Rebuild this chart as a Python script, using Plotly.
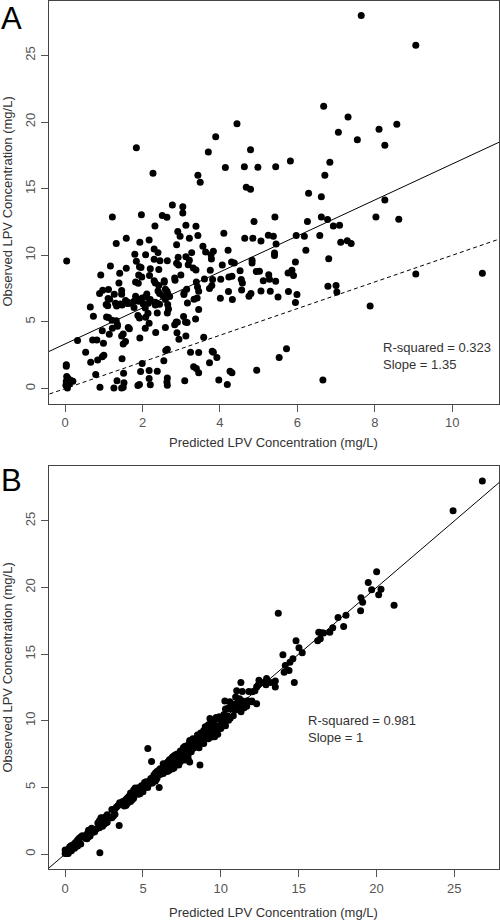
import plotly.graph_objects as go

# ---------------- Panel A data (predicted, observed) ----------------
pred_A = [1.84, 2.27, 1.22, 1.97, 2.51, 2.63, 2.77, 3.04, 3.04, 2.32, 3.12, 3.38, 3.43, 3.49, 3.70, 3.89, 4.44, 4.14, 4.63, 4.68,
          4.79, 4.79, 7.65, 9.06, 6.68, 7.31, 7.06, 8.11, 8.57, 7.55, 8.26, 4.98, 5.44, 5.82, 6.84, 6.71, 6.29, 6.62, 8.26, 4.88,
          5.42, 6.26, 6.62, 6.78, 6.93, 7.09, 8.03, 8.62, 4.85, 5.06, 5.25, 5.38, 5.97, 6.18, 6.58, 6.22, 7.12, 7.29, 7.39, 5.41,
          5.41, 4.83, 4.83, 6.81, 5.95, 4.94, 5.26, 5.76, 5.86, 5.90, 5.12, 5.44, 4.80, 5.06, 5.50, 5.77, 5.99, 5.95, 6.79, 7.00,
          7.02, 9.06, 10.78, 7.88, 5.72, 5.53, 4.95, 6.66, 2.91, 2.97, 3.21, 3.43, 4.10, 1.93, 2.17, 2.88, 3.56, 4.64, 1.80, 2.30,
          2.40, 3.27, 3.77, 3.83, 4.21, 3.12, 1.32, 1.58, 0.04, 1.17, 1.41, 1.58, 1.84, 1.92, 1.96, 2.08, 2.30, 2.45, 2.20, 2.42,
          2.64, 2.92, 2.88, 2.93, 3.21, 3.18, 3.31, 3.38, 3.63, 3.78, 4.06, 3.75, 4.30, 4.37, 4.52, 4.23, 4.31, 4.55, 4.58, 5.02,
          4.75, 5.30, 0.92, 0.89, 0.97, 1.12, 1.11, 1.15, 1.39, 1.46, 1.27, 1.46, 1.06, 1.10, 1.30, 1.33, 1.56, 1.62, 1.43, 1.47,
          1.61, 1.68, 1.78, 1.78, 1.90, 1.82, 1.99, 2.07, 2.11, 2.02, 2.15, 2.07, 2.20, 2.33, 2.33, 2.14, 1.92, 1.88, 1.82, 1.89,
          1.90, 1.98, 2.18, 2.30, 2.33, 2.42, 2.40, 2.56, 2.56, 2.59, 2.63, 2.65, 2.70, 2.53, 2.44, 2.59, 2.44, 2.65, 2.67, 2.64,
          2.38, 2.08, 2.17, 2.84, 2.83, 2.99, 3.07, 3.07, 3.14, 3.42, 3.45, 3.39, 3.60, 3.33, 3.41, 3.16, 3.45, 3.06, 2.87, 2.90,
          3.37, 3.11, 3.15, 2.83, 2.89, 2.59, 2.34, 2.07, 3.12, 2.94, 3.58, 2.64, 2.60, 3.73, 3.79, 3.81, 4.02, 4.01, 4.22, 4.32,
          4.56, 5.28, 5.45, 4.26, 4.31, 4.19, 3.97, 3.92, 3.80, 3.83, 3.73, 3.45, 3.24, 3.45, 3.32, 3.39, 3.09, 2.63, 2.64, 2.64,
          2.55, 2.38, 2.17, 2.17, 2.20, 1.95, 1.99, 1.88, 1.92, 1.51, 1.52, 1.34, 1.26, 1.46, 1.50, 0.90, 0.79, 1.47, 1.00, 0.96,
          0.84, 0.66, 0.53, 0.71, 0.82, 0.99, 0.32, 0.96, 1.14, 1.22, 1.35, 1.35, 1.46, 1.50, 1.50, 1.56, 1.32, 1.21, 1.12, 1.07,
          1.63, 1.66, 0.65, 0.73, 1.93, 0.03, 0.03, 0.04, 0.08, 0.03, 0.15, 0.20, 0.02, 0.06, 0.11]

obs = [18.08, 16.15, 12.88, 13.05, 12.98, 12.85, 13.78, 13.65, 13.18, 12.20, 12.25, 12.18, 16.00, 15.48, 17.75, 18.90, 19.88, 16.58, 16.65, 15.10,
       14.96, 17.93, 28.00, 25.76, 21.18, 20.38, 19.23, 19.45, 19.83, 18.68, 18.25, 16.60, 16.65, 17.08, 16.98, 16.00, 14.65, 14.40, 14.15, 12.53,
       12.88, 12.53, 12.88, 12.68, 12.20, 12.25, 12.88, 12.70, 11.28, 11.08, 11.50, 11.43, 11.48, 11.43, 11.48, 10.38, 10.98, 11.10, 10.88, 10.18,
       9.98, 9.63, 9.43, 9.75, 9.50, 8.78, 8.55, 8.68, 8.88, 8.48, 8.10, 8.05, 7.13, 7.33, 6.88, 7.28, 7.05, 6.45, 7.68, 7.73,
       7.25, 8.60, 8.65, 6.20, 2.98, 2.33, 1.37, 0.65, 11.78, 11.43, 11.28, 11.48, 11.65, 10.98, 11.15, 10.80, 10.68, 11.28, 10.08, 10.48,
       10.20, 10.20, 10.05, 10.30, 10.38, 9.90, 10.88, 11.28, 9.58, 9.20, 8.65, 9.03, 9.55, 9.15, 9.08, 10.05, 9.70, 9.60, 9.00, 8.93,
       9.60, 9.85, 9.40, 9.28, 9.63, 9.30, 9.05, 8.90, 10.25, 9.73, 9.28, 8.88, 9.50, 9.43, 8.85, 8.38, 8.43, 8.18, 7.93, 8.80,
       6.93, 7.30, 8.53, 7.13, 7.38, 7.43, 6.75, 6.70, 7.93, 7.35, 7.08, 7.07, 6.30, 6.22, 6.40, 6.20, 6.60, 6.48, 6.35, 6.28,
       6.38, 6.40, 6.55, 6.08, 6.55, 6.93, 6.80, 6.88, 7.10, 6.35, 6.40, 6.05, 6.68, 6.48, 6.28, 5.65, 5.30, 5.48, 8.00, 7.90,
       8.53, 8.38, 8.48, 8.10, 7.93, 7.73, 7.33, 7.98, 8.10, 7.45, 7.30, 7.13, 6.90, 6.95, 7.13, 6.68, 6.33, 6.30, 5.98, 5.68,
       5.68, 5.35, 4.90, 8.13, 8.30, 8.53, 7.05, 7.18, 7.45, 7.63, 7.30, 8.00, 8.23, 6.70, 6.80, 6.43, 5.93, 5.40, 5.00, 4.98,
       5.23, 5.00, 4.95, 4.78, 4.18, 4.58, 4.20, 4.53, 3.95, 3.70, 3.85, 2.95, 2.85, 7.50, 7.73, 8.18, 8.20, 6.78, 7.28, 6.68,
       7.40, 8.20, 10.85, 1.30, 1.18, 0.30, 0.65, 2.33, 2.80, 2.73, 1.93, 2.70, 2.73, 1.18, 1.63, 1.50, 0.58, 0.50, 0.25, 0.80,
       2.08, 1.30, 1.35, 0.75, 0.28, 1.28, 1.88, 0.23, 0.30, 1.15, 0.43, 0.58, 0.05, 0.05, 0.10, 0.10, 1.05, 2.23, 2.50, 2.38,
       2.15, 1.98, 2.73, 3.65, 3.65, 3.40, 3.60, 4.33, 4.08, 4.53, 4.80, 4.68, 3.95, 4.10, 3.35, 3.53, 5.08, 5.13, 5.33, 5.38,
       4.58, 4.48, 6.13, 5.43, 3.80, 1.78, 1.68, 0.90, 0.75, 0.55, 0.60, 0.55, 0.25, 0.05, 0.35]

# ---------------- Panel B data (re-predicted, same observations) ----------------
pred_B = [13.69, 16.39, 11.29, 12.45, 13.50, 12.60, 14.38, 14.07, 12.94, 11.38, 12.19, 12.02, 16.22, 15.02, 17.53, 19.11, 20.29, 16.60, 16.29, 15.23,
          13.99, 18.04, 26.80, 24.92, 20.01, 19.47, 19.00, 20.14, 19.69, 21.13, 18.98, 16.45, 17.00, 17.89, 17.19, 14.83, 14.63, 14.44, 14.14, 12.30,
          14.72, 13.50, 12.80, 12.40, 11.80, 11.02, 13.20, 12.90, 11.00, 11.30, 11.72, 11.98, 11.40, 10.58, 10.26, 10.80, 11.50, 11.66, 10.60, 9.30,
          10.30, 9.90, 9.80, 10.10, 9.60, 9.40, 8.90, 8.40, 9.10, 8.60, 8.50, 7.80, 7.50, 7.10, 7.20, 7.70, 7.30, 6.60, 8.10, 7.40,
          6.90, 8.80, 9.20, 6.50, 3.20, 2.60, 1.10, 0.40, 10.95, 11.10, 11.60, 12.00, 11.20, 10.50, 10.80, 10.90, 11.30, 10.70, 10.00, 10.20,
          10.60, 9.80, 9.60, 9.90, 10.40, 10.20, 10.30, 12.30, 9.40, 9.50, 8.20, 9.30, 9.00, 9.60, 8.70, 10.50, 9.20, 10.00, 9.80, 8.50,
          9.70, 9.50, 9.90, 9.10, 10.30, 9.70, 9.50, 8.60, 9.70, 9.30, 8.90, 9.30, 9.20, 10.00, 8.70, 8.10, 8.80, 8.40, 8.20, 9.60,
          7.40, 7.60, 8.00, 6.90, 7.00, 7.80, 6.50, 7.10, 5.31, 7.20, 7.50, 6.70, 6.10, 6.60, 6.20, 5.90, 6.80, 6.30, 6.70, 6.00,
          6.50, 6.90, 6.40, 5.80, 6.90, 6.60, 7.00, 7.30, 7.10, 6.60, 6.10, 6.30, 6.40, 7.00, 6.50, 5.60, 5.40, 5.80, 8.30, 7.60,
          8.70, 8.00, 8.20, 7.90, 8.10, 7.50, 7.00, 8.60, 7.70, 7.90, 7.40, 7.60, 8.00, 5.55, 6.80, 8.66, 6.20, 6.70, 6.10, 5.90,
          5.50, 5.60, 5.00, 8.40, 8.90, 8.30, 7.70, 7.90, 7.10, 7.90, 7.50, 7.60, 8.50, 6.90, 6.50, 6.90, 5.70, 5.30, 6.04, 4.70,
          5.20, 5.30, 4.50, 4.90, 4.40, 4.20, 4.00, 4.60, 3.70, 3.90, 3.50, 2.70, 3.10, 7.20, 8.00, 7.90, 8.60, 6.30, 6.90, 7.30,
          7.30, 8.00, 11.00, 1.50, 0.90, 0.20, 0.50, 2.10, 2.60, 3.00, 1.70, 2.40, 2.90, 1.30, 1.80, 1.40, 0.70, 0.30, 0.40, 0.60,
          2.40, 1.20, 1.60, 0.90, 0.10, 1.00, 2.00, 0.30, 0.00, 1.40, 0.60, 0.40, 0.20, 0.10, 2.23, 0.05, 0.80, 2.50, 2.20, 2.70,
          3.47, 2.20, 2.30, 3.40, 3.90, 3.20, 3.80, 4.10, 4.30, 4.80, 4.40, 5.00, 4.20, 3.90, 3.00, 3.30, 5.30, 4.90, 5.60, 5.10,
          4.40, 4.70, 6.30, 5.20, 4.00, 1.50, 1.90, 0.70, 1.00, 0.30, 0.80, 0.50, 0.10, 0.00, 0.20]

# fitted-line parameters and annotation text
fit_A_intercept, fit_A_slope = 3.35, 1.35
stats_A = ["R-squared = 0.323", "Slope = 1.35"]
stats_B = ["R-squared = 0.981", "Slope = 1"]

x_title = "Predicted LPV Concentration (mg/L)"
y_title = "Observed LPV Concentration (mg/L)"

W, H = 500, 920
# axis ranges (R style 4% extension)
xr_A = [-0.43, 11.21]
yr_A = [-1.12, 29.12]
xr_B = [-1.07, 27.87]
yr_B = [-1.12, 29.12]

dom_x = [48.5 / W, 499 / W]
dom_yA = [1 - 403.5 / H, 1 - 0.5 / H]
dom_yB = [1 - 869 / H, 1 - 466 / H]

fig = go.Figure()

mk = dict(color="black", size=7, symbol="circle", line=dict(width=0))

# Panel A
fig.add_trace(go.Scatter(x=pred_A, y=obs, mode="markers", marker=mk, xaxis="x", yaxis="y", showlegend=False))
lx = [xr_A[0] - 1, xr_A[1] + 1]
fig.add_trace(go.Scatter(x=lx, y=[fit_A_intercept + fit_A_slope * v for v in lx], mode="lines",
                         line=dict(color="black", width=1), xaxis="x", yaxis="y", showlegend=False))
fig.add_trace(go.Scatter(x=lx, y=lx, mode="lines",
                         line=dict(color="black", width=1, dash="4px,3px"), xaxis="x", yaxis="y", showlegend=False))

# Panel B
fig.add_trace(go.Scatter(x=pred_B, y=obs, mode="markers", marker=mk, xaxis="x2", yaxis="y2", showlegend=False))
lxB = [xr_B[0] - 1, xr_B[1] + 1]
fig.add_trace(go.Scatter(x=lxB, y=lxB, mode="lines",
                         line=dict(color="black", width=1), xaxis="x2", yaxis="y2", showlegend=False))

tickfont = dict(family="Liberation Sans, Arial, sans-serif", size=13, color="#555555")
axis_common = dict(showline=True, linecolor="#444444", linewidth=1, mirror=True, showgrid=False, zeroline=False,
                   ticks="outside", ticklen=7, tickwidth=1, tickcolor="#555555", tickfont=tickfont, automargin=False)

fig.update_layout(
    width=W, height=H, margin=dict(l=0, r=0, t=0, b=0),
    template="none", paper_bgcolor="white", plot_bgcolor="white",
    xaxis=dict(domain=dom_x, range=xr_A, anchor="y", tickvals=[0, 2, 4, 6, 8, 10], **axis_common),
    yaxis=dict(domain=dom_yA, range=yr_A, anchor="x", tickvals=[0, 5, 10, 15, 20, 25], tickangle=-90, **axis_common),
    xaxis2=dict(domain=dom_x, range=xr_B, anchor="y2", tickvals=[0, 5, 10, 15, 20, 25], **axis_common),
    yaxis2=dict(domain=dom_yB, range=yr_B, anchor="x2", tickvals=[0, 5, 10, 15, 20, 25], tickangle=-90, **axis_common),
)

tfont = dict(family="Liberation Sans, Arial, sans-serif", size=13, color="#333333")
ann = []
# axis titles
for yc in [201.5, 667.5]:
    ann.append(dict(text=y_title, xref="paper", yref="paper", x=7 / W, y=1 - yc / H, textangle=-90,
                    showarrow=False, font=tfont, xanchor="center", yanchor="middle"))
for yc in [442, 912]:
    ann.append(dict(text=x_title, xref="paper", yref="paper", x=273.75 / W, y=1 - yc / H,
                    showarrow=False, font=tfont, xanchor="center", yanchor="middle"))
# panel letters
letter_font = dict(family="Liberation Sans, Arial, sans-serif", size=31, color="black")
ann.append(dict(text="A", xref="paper", yref="paper", x=0, y=1, showarrow=False, borderpad=0,
                font=letter_font, xanchor="left", yanchor="top"))
ann.append(dict(text="B", xref="paper", yref="paper", x=0, y=1 - 462 / H, showarrow=False, borderpad=0,
                font=letter_font, xanchor="left", yanchor="top"))
# stats text
ann.append(dict(text="<br>".join(stats_A), xref="paper", yref="paper", x=381 / W, y=1 - 356 / H, showarrow=False,
                font=tfont, xanchor="left", yanchor="middle", align="left"))
ann.append(dict(text="<br>".join(stats_B), xref="paper", yref="paper", x=306 / W, y=1 - 729 / H, showarrow=False,
                font=tfont, xanchor="left", yanchor="middle", align="left"))
fig.update_layout(annotations=ann)

fig.write_html("out.html", config={"displayModeBar": False},
               post_script="document.body.style.margin='0px';document.body.style.overflow='hidden';")
